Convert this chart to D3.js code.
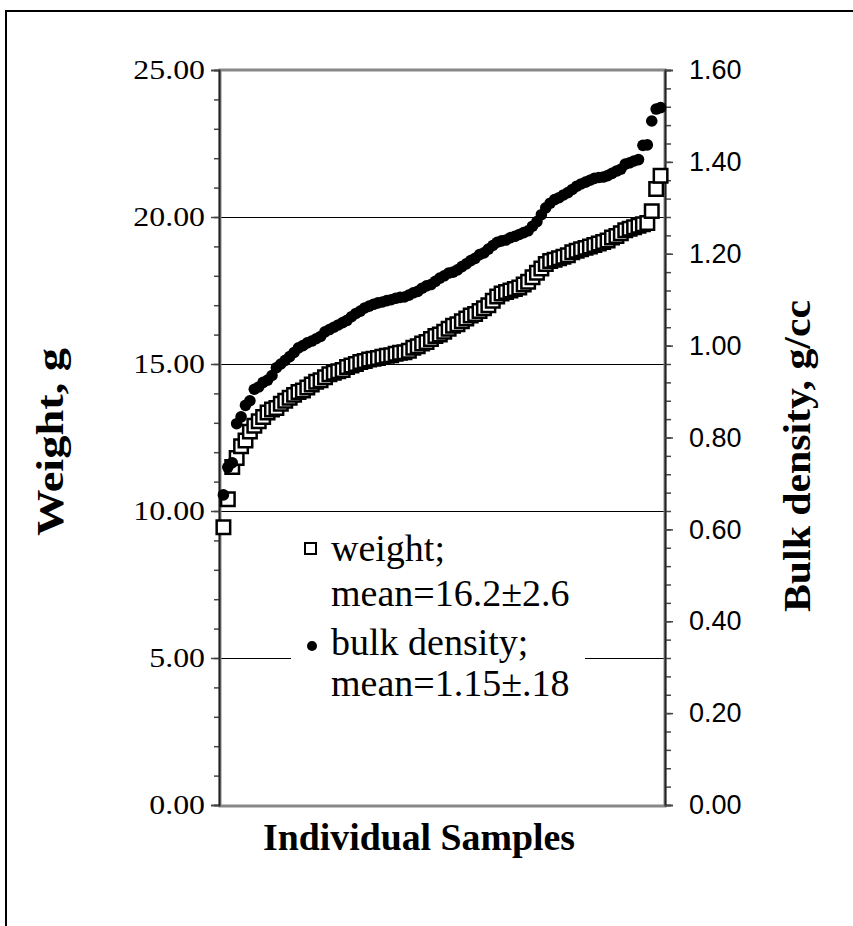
<html lang="en">
<head>
  <meta charset="UTF-8"/>
  <title>Weight and bulk density of individual samples</title>
  <script src="https://d3js.org/d3.v7.min.js"></script>
  <style>
    body { margin: 0; background: #fff; }
    svg { display: block; }
  </style>
</head>
<body>
  <svg id="chart" width="853" height="926"></svg>

  <script>

  // weight per sample, g (sorted)
  const weights = [
    9.45, 10.4, 11.5, 11.8, 12.2, 12.4, 12.7, 12.9, 13.05, 13.2,
    13.35, 13.45, 13.5, 13.65, 13.75, 13.85, 13.95, 14.05, 14.1, 14.2,
    14.3, 14.4, 14.45, 14.55, 14.65, 14.7, 14.75, 14.8, 14.9, 14.95,
    15.0, 15.07, 15.1, 15.15, 15.18, 15.2, 15.25, 15.28, 15.3, 15.35,
    15.38, 15.4, 15.45, 15.55, 15.6, 15.7, 15.75, 15.85, 15.95, 16.0,
    16.1, 16.2, 16.3, 16.35, 16.45, 16.55, 16.65, 16.7, 16.8, 16.9,
    17.0, 17.15, 17.3, 17.4, 17.45, 17.5, 17.55, 17.6, 17.7, 17.8,
    17.95, 18.1, 18.25, 18.4, 18.5, 18.55, 18.6, 18.65, 18.7, 18.8,
    18.85, 18.9, 18.95, 19.0, 19.05, 19.1, 19.15, 19.2, 19.3, 19.35,
    19.45, 19.55, 19.6, 19.65, 19.7, 19.75, 19.8, 20.2, 20.95, 21.4
  ];

  // bulk density per sample, g/cc (sorted)
  const densities = [
    0.675, 0.735, 0.745, 0.83, 0.845, 0.87, 0.88, 0.905, 0.91, 0.92,
    0.925, 0.935, 0.952, 0.96, 0.968, 0.976, 0.985, 0.995, 1.0, 1.006,
    1.01, 1.015, 1.02, 1.03, 1.035, 1.04, 1.045, 1.05, 1.055, 1.063,
    1.07, 1.075, 1.082, 1.086, 1.09, 1.093, 1.095, 1.098, 1.1, 1.103,
    1.105, 1.106, 1.11, 1.115, 1.118, 1.125, 1.13, 1.133, 1.14, 1.147,
    1.152, 1.158, 1.16, 1.165, 1.172, 1.178, 1.185, 1.19, 1.198, 1.202,
    1.21, 1.218, 1.225, 1.228, 1.23, 1.235, 1.238, 1.242, 1.246, 1.25,
    1.26, 1.27, 1.285, 1.3, 1.31, 1.318, 1.322, 1.328, 1.333, 1.34,
    1.347, 1.352, 1.356, 1.36, 1.364, 1.366, 1.367, 1.37, 1.375, 1.38,
    1.384, 1.395, 1.398, 1.402, 1.405, 1.436, 1.437, 1.489, 1.515, 1.518
  ];

  const weightMajorTicks = [0, 5, 10, 15, 20, 25];
  const weightMinorTicks = d3.range(0, 26, 1);
  const densityMajorTicks = [0, 0.2, 0.4, 0.6, 0.8, 1.0, 1.2, 1.4, 1.6];
  const densityMinorTicks = d3.range(0, 41, 1).map(d => d * 0.04);

  const legendLines = [
    ['weight;', 'mean=16.2\u00b12.6'],
    ['bulk density;', 'mean=1.15\u00b1.18']
  ];

  const svg = d3.select('#chart');

  const plotLeft = 219, plotRight = 665, plotTop = 70, plotBottom = 805;
  const serif = '"Liberation Serif", "Times New Roman", serif';
  const sans = '"Liberation Sans", Arial, sans-serif';

  // the original text is drawn a bit wider than the font's normal shape
  function stretch(sel, factor) {
    sel.each(function () {
      const w = this.getComputedTextLength();
      d3.select(this)
        .attr('textLength', w * factor)
        .attr('lengthAdjust', 'spacingAndGlyphs');
    });
  }

  // outer frame (only top and left edges fall inside the picture)
  svg.append('rect')
    .attr('x', 6).attr('y', 11)
    .attr('width', 900).attr('height', 1000)
    .attr('fill', 'none')
    .attr('stroke', '#000')
    .attr('stroke-width', 2);

  const n = weights.length;
  const x = d3.scaleLinear().domain([0, n + 1]).range([plotLeft, plotRight]);
  const yW = d3.scaleLinear().domain([0, 25]).range([plotBottom, plotTop]);
  const yD = d3.scaleLinear().domain([0, 1.6]).range([plotBottom, plotTop]);

  // gridlines
  svg.append('g')
    .selectAll('line')
    .data(weightMajorTicks.filter(d => d > 0 && d < 25))
    .join('line')
    .attr('x1', plotLeft).attr('x2', plotRight)
    .attr('y1', d => yW(d)).attr('y2', d => yW(d))
    .attr('stroke', '#000')
    .attr('stroke-width', 1)
    .attr('shape-rendering', 'crispEdges');

  // plot area border, grey like the original
  svg.append('rect')
    .attr('x', plotLeft + 1).attr('y', plotTop)
    .attr('width', plotRight - plotLeft - 1).attr('height', plotBottom - plotTop + 1)
    .attr('fill', 'none')
    .attr('stroke', '#888')
    .attr('stroke-width', 3);

  // left axis
  const leftMinor = svg.append('g')
    .attr('transform', `translate(${plotLeft},0)`)
    .call(d3.axisLeft(yW).tickValues(weightMinorTicks).tickSize(5).tickFormat(''));
  const leftMajor = svg.append('g')
    .attr('transform', `translate(${plotLeft},0)`)
    .call(d3.axisLeft(yW).tickValues(weightMajorTicks).tickSize(8).tickPadding(6)
      .tickFormat(d3.format('.2f')));
  leftMajor.selectAll('text')
    .attr('font-family', serif)
    .attr('font-size', 27)
    .attr('fill', '#000')
    .call(stretch, 1.18);

  // right axis
  const rightMinor = svg.append('g')
    .attr('transform', `translate(${plotRight},0)`)
    .call(d3.axisRight(yD).tickValues(densityMinorTicks).tickSize(6).tickFormat(''));
  const rightMajor = svg.append('g')
    .attr('transform', `translate(${plotRight},0)`)
    .call(d3.axisRight(yD).tickValues(densityMajorTicks).tickSize(8).tickPadding(16)
      .tickFormat(d3.format('.2f')));
  rightMajor.selectAll('text')
    .attr('font-family', sans)
    .attr('font-size', 27)
    .attr('fill', '#000');

  [leftMinor, leftMajor, rightMinor, rightMajor].forEach(g => {
    g.select('.domain').attr('stroke', '#222').attr('stroke-width', 1.5);
    g.selectAll('.tick line').attr('stroke', '#444').attr('stroke-width', 1.5);
  });

  // weight: open squares
  svg.append('g')
    .selectAll('path')
    .data(weights)
    .join('path')
    .attr('d', d3.symbol(d3.symbolSquare, 182))
    .attr('transform', (d, i) => `translate(${x(i + 1)},${yW(d)})`)
    .attr('fill', '#fff')
    .attr('stroke', '#000')
    .attr('stroke-width', 2.5);

  // bulk density: filled dots
  svg.append('g')
    .selectAll('circle')
    .data(densities)
    .join('circle')
    .attr('cx', (d, i) => x(i + 1))
    .attr('cy', d => yD(d))
    .attr('r', 5.8)
    .attr('fill', '#000');

  // legend
  const legend = svg.append('g');
  legend.append('rect')
    .attr('x', 291).attr('y', 522)
    .attr('width', 294).attr('height', 184)
    .attr('fill', '#fff');

  const baselines = [[561, 606], [655, 696]];
  legendLines.forEach((lines, k) => {
    lines.forEach((t, j) => {
      legend.append('text')
        .attr('x', 331)
        .attr('y', baselines[k][j])
        .attr('font-family', serif)
        .attr('font-size', 38)
        .attr('fill', '#000')
        .text(t);
    });
  });
  legend.append('rect')
    .attr('x', 305).attr('y', 543)
    .attr('width', 11).attr('height', 11)
    .attr('fill', '#fff')
    .attr('stroke', '#000')
    .attr('stroke-width', 2);
  legend.append('circle')
    .attr('cx', 312).attr('cy', 646)
    .attr('r', 5)
    .attr('fill', '#000');

  // axis titles
  svg.append('text')
    .attr('transform', 'translate(63,442) rotate(-90)')
    .attr('text-anchor', 'middle')
    .attr('font-family', serif)
    .attr('font-weight', 'bold')
    .attr('font-size', 37)
    .attr('textLength', 188)
    .attr('lengthAdjust', 'spacingAndGlyphs')
    .text('Weight, g');

  svg.append('text')
    .attr('transform', 'translate(810,456) rotate(-90)')
    .attr('text-anchor', 'middle')
    .attr('font-family', serif)
    .attr('font-weight', 'bold')
    .attr('font-size', 38)
    .attr('textLength', 312)
    .attr('lengthAdjust', 'spacingAndGlyphs')
    .text('Bulk density, g/cc');

  svg.append('text')
    .attr('x', 419)
    .attr('y', 850)
    .attr('text-anchor', 'middle')
    .attr('font-family', serif)
    .attr('font-weight', 'bold')
    .attr('font-size', 38)
    .attr('textLength', 312)
    .attr('lengthAdjust', 'spacingAndGlyphs')
    .text('Individual Samples');

  </script>
</body>
</html>
